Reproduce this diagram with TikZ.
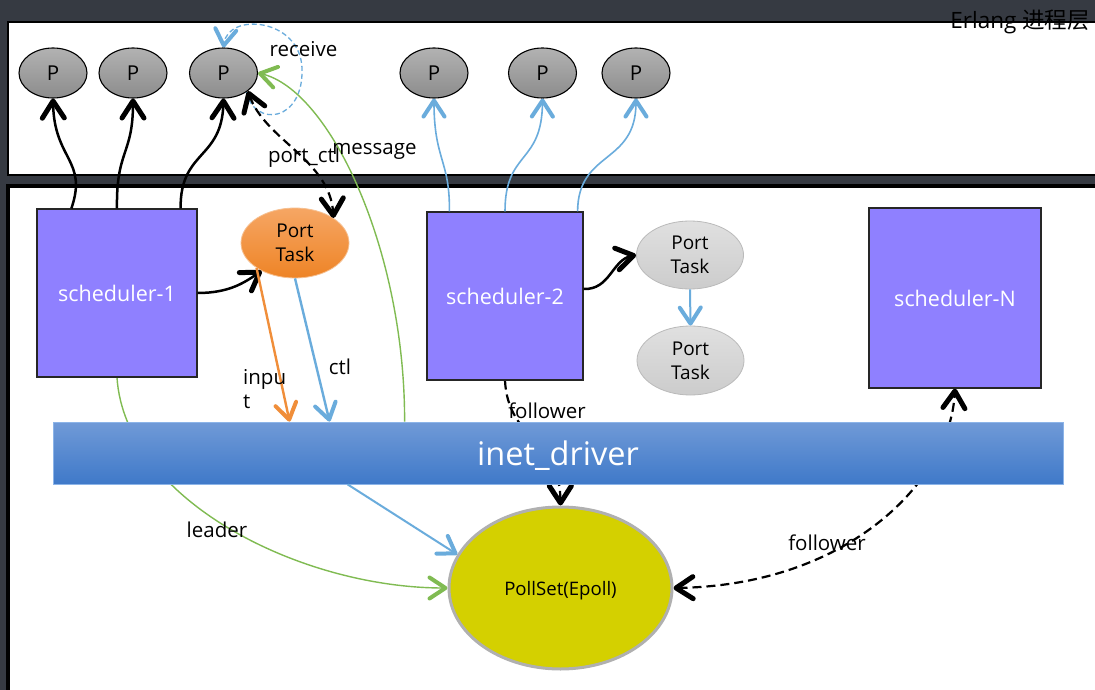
\documentclass[tikz,border=0pt]{standalone}
\usepackage{fontspec}
\setmainfont{Open Sans}
\newfontfamily\cjkfont{Noto Sans CJK SC}
\usetikzlibrary{arrows.meta,shapes.geometric}

\definecolor{chrome}{RGB}{54,58,66}
\definecolor{schfill}{RGB}{143,128,255}
\definecolor{flowblue}{RGB}{106,172,220}
\definecolor{flowgreen}{RGB}{128,187,82}
\definecolor{floworange}{RGB}{240,142,58}
\definecolor{pollfill}{RGB}{212,208,0}
\definecolor{pollrim}{RGB}{176,176,176}
\definecolor{bartop}{RGB}{112,154,215}
\definecolor{barbot}{RGB}{63,121,201}
\definecolor{barrim}{RGB}{140,180,232}
\definecolor{ptop}{RGB}{178,178,178}
\definecolor{pbot}{RGB}{140,140,140}
\definecolor{ttop}{RGB}{224,224,224}
\definecolor{tbot}{RGB}{204,204,204}
\definecolor{trim}{RGB}{186,186,186}
\definecolor{otop}{RGB}{246,166,100}
\definecolor{obot}{RGB}{238,132,38}
\definecolor{orim}{RGB}{246,192,145}

\pgfdeclarelayer{panels}
\pgfdeclarelayer{under}
\pgfsetlayers{panels,under,main}

\tikzset{
  barbK/.tip={Straight Barb[length=17pt,width=22pt,line width=5pt,round]},
  barbC/.tip={Straight Barb[length=16pt,width=21pt,line width=4pt,round]},
  proc/.style={ellipse,draw=black,line width=1.1pt,top color=ptop,bottom color=pbot,
    minimum width=68pt,minimum height=50pt,inner sep=0pt,
    font=\fontsize{20.5}{22}\selectfont},
  sched/.style={rectangle,draw=black!85,line width=1.2pt,fill=schfill,inner sep=0pt,
    text=white,font=\fontsize{21.5}{24}\selectfont},
  task/.style={ellipse,inner sep=0pt,align=center,line width=0.8pt,
    font=\fontsize{19}{24}\selectfont},
  greytask/.style={task,draw=trim,top color=ttop,bottom color=tbot,
    minimum width=107pt,minimum height=68pt},
  lbl/.style={anchor=base,inner sep=0pt,font=\fontsize{20.5}{24}\selectfont},
  solidK/.style={line width=2.5pt,-{barbK}},
  dashK/.style={line width=2.2pt,dash pattern=on 9pt off 5pt},
  blueup/.style={flowblue,line width=1.6pt,-{barbC}},
  thingreen/.style={flowgreen,line width=1.4pt,-{barbC}},
}

\begin{document}
\begin{tikzpicture}[x=1pt,y=-1pt]
\useasboundingbox (0,0) rectangle (1095,690);

% two layer panels on the dark window
\begin{pgfonlayer}{panels}
  \fill[chrome] (-5,-5) rectangle (1100,695);
  \draw[line width=2.4pt,fill=white] (8,22) rectangle (1120,175);
  \draw[line width=3.5pt,fill=white] (8,186) rectangle (1120,720);
\end{pgfonlayer}

\node[anchor=base east,inner sep=0pt,font=\fontsize{22.5}{24}\selectfont] (title)
  at (1090,29) {Erlang {\cjkfont 进程层}};

% Erlang processes
\node[proc] (P1) at (53,73) {P};
\node[proc] (P2) at (133,73) {P};
\node[proc] (P3) at (223.5,73) {P};
\node[proc] (P4) at (434,73) {P};
\node[proc] (P5) at (542.5,73) {P};
\node[proc] (P6) at (636,73) {P};

% schedulers
\node[sched,minimum width=160pt,minimum height=168pt] (sch1) at (117,293) {scheduler-1};
\node[sched,minimum width=156pt,minimum height=168pt] (sch2) at (505,296) {scheduler-2};
\node[sched,minimum width=172pt,minimum height=180pt] (schN) at (955,298) {scheduler-N};

% port tasks
\node[task,draw=orim,top color=otop,bottom color=obot,
  minimum width=108pt,minimum height=70pt] (pt0) at (295,243) {Port\\Task};
\node[greytask] (pt1) at (690,255) {Port\\Task};
\node[greytask,minimum height=69pt] (pt2) at (690.5,360.5) {Port\\Task};

% driver bar and poll set
\node[rectangle,draw=barrim,line width=0.8pt,top color=bartop,bottom color=barbot,
  minimum width=1010pt,minimum height=62pt,inner sep=0pt,text=white,text depth=0pt,
  font=\fontsize{32.5}{36}\selectfont] (inet) at (558,453) {inet\_driver};
\node[ellipse,draw=pollrim,line width=3pt,fill=pollfill,minimum width=223pt,
  minimum height=162pt,inner sep=0pt,text depth=0pt,
  font=\fontsize{18.6}{22}\selectfont] (poll) at (560.5,588) {PollSet(Epoll)};

% links that pass behind the driver bar
\begin{pgfonlayer}{under}
  \draw[thingreen] (sch1.south) .. controls (125,500) and (300,588) .. (poll.west);
  \draw[dashK,-{barbK}] (sch2.south) .. controls (508,440) and (560,440) .. (poll.north);
  \draw[dashK,{barbK}-{barbK}] (poll.east) .. controls (850,585) and (950,480) .. (schN.south);
\end{pgfonlayer}

% scheduler-1 runs its processes
\draw[solidK] ([xshift=35pt]sch1.north west) .. controls (88,160) and (54,160) .. (P1.south);
\draw[solidK] (sch1.north) .. controls (116,150) and (133,155) .. (P2.south);
\draw[solidK] ([xshift=-17pt]sch1.north east) .. controls (180,150) and (222,160) .. (P3.south);

% scheduler-2 runs its processes
\draw[blueup] ([xshift=23pt]sch2.north west) .. controls (450,160) and (434,160) .. (P4.south);
\draw[blueup] (sch2.north) .. controls (505,150) and (542,165) .. (P5.south);
\draw[blueup] ([xshift=-6pt]sch2.north east) .. controls (578,150) and (636,165) .. (P6.south);

% receive loop on the third process
\draw[flowblue,line width=1.3pt,dash pattern=on 5pt off 3pt,-{barbC}]
  (P3.-40) .. controls (255,128) and (304,122) .. (302,68)
  .. controls (300,18) and (228,12) .. (P3.north);
\node[lbl] (recv) at (303.5,57) {receive};

% port control between process and port task
\draw[dashK,{barbK}-{barbK}] (P3.south east) .. controls (265,140) and (330,160) .. (pt0.north east);
\node[lbl] (pctl) at (304,163) {port\_ctl};

% message from the driver to the process
\draw[thingreen] ([xshift=352pt]inet.north west) .. controls (405,250) and (330,90) .. (P3.east);
\node[lbl] (msg) at (374.5,154) {message};

% scheduler-1 picks the port task
\draw[solidK] (sch1.east) .. controls (230,293) and (245,282) .. (pt0.220);

% port task into the driver
\draw[floworange,line width=2.4pt,-{barbC}] (pt0.south west) -- ([xshift=237pt]inet.north west);
\node[anchor=north west,inner sep=0pt,align=left,font=\fontsize{20.5}{24}\selectfont]
  (inlbl) at (243,369) {inpu\\t};
\draw[flowblue,line width=2.4pt,-{barbC}] (pt0.south) -- ([xshift=277pt]inet.north west);
\node[lbl] (ctl) at (340,374) {ctl};
\draw[flowblue,line width=2pt,-{barbC}] ([xshift=295pt]inet.south west) -- (poll.162);

% scheduler-2 and its queue of port tasks
\draw[solidK] ([yshift=7pt]sch2.east) .. controls (610,290) and (612,260) .. (pt1.west);
\draw[blueup,line width=2pt] (pt1.south) -- (pt2.north);

% leader / follower labels
\node[lbl] (fol1) at (547,418) {follower};
\node[lbl] (lead) at (217,537) {leader};
\node[lbl] (fol2) at (827,550) {follower};
\end{tikzpicture}
\end{document}
